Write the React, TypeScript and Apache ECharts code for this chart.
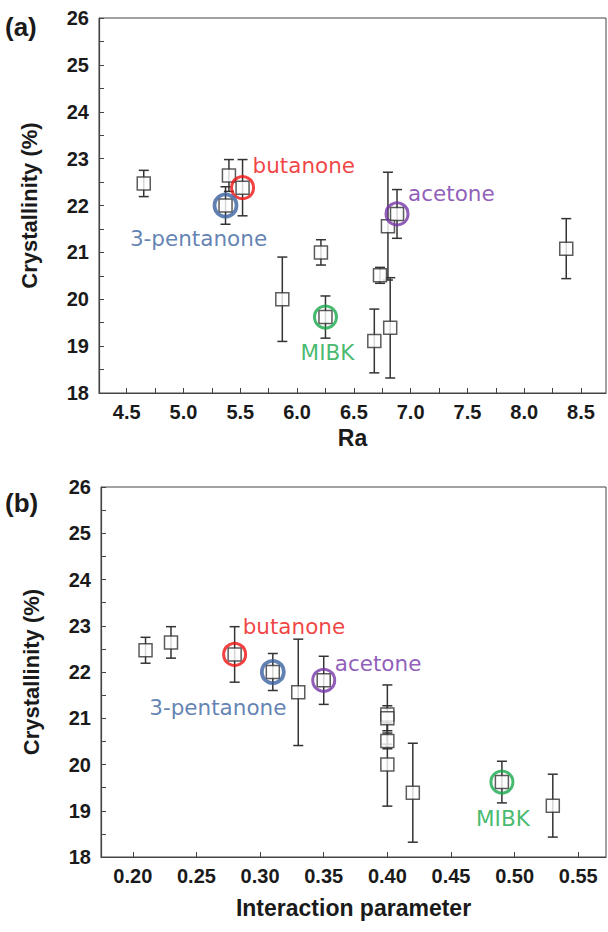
import React, { useEffect, useRef } from "react";
import * as echarts from "echarts";

// ---- data ----
const crystallinity = [22.47, 22.64, 22.38, 22.0, 21.56, 21.82, 21.08, 21.0, 20.51, 20.0, 19.39, 19.62, 19.11];
const crystErrors = [0.28, 0.34, 0.6, 0.4, 1.15, 0.52, 0.64, 0.27, 0.17, 0.9, 1.07, 0.45, 0.68];
const raValues = [4.65, 5.4, 5.52, 5.37, 6.8, 6.88, 8.37, 6.21, 6.73, 5.87, 6.82, 6.25, 6.68];
const interactionValues = [0.21, 0.23, 0.28, 0.31, 0.33, 0.35, 0.4, 0.4, 0.4, 0.4, 0.42, 0.49, 0.53];

const highlightNames = ["butanone", "3-pentanone", "acetone", "MIBK"];
const highlightIndex = [2, 3, 5, 11];
const highlightColors = ["#ee1111", "#3a62a0", "#7434a8", "#16a84a"];

const yLabels = [18, 19, 20, 21, 22, 23, 24, 25, 26];
const raLabels = [4.5, 5.0, 5.5, 6.0, 6.5, 7.0, 7.5, 8.0, 8.5];
const raTicks = [4.5, 4.75, 5.0, 5.25, 5.5, 5.75, 6.0, 6.25, 6.5, 6.75, 7.0, 7.25, 7.5, 7.75, 8.0, 8.25, 8.5];
const interactionLabels = [0.2, 0.25, 0.3, 0.35, 0.4, 0.45, 0.5, 0.55];

// ---- annotation styling (offset from the circled point, px) ----
const labelStyleA = [
  { align: "left", offset: [10, -22] },
  { align: "center", offset: [-27, 33] },
  { align: "left", offset: [11, -20] },
  { align: "center", offset: [2, 35] },
];
const labelStyleB = [
  { align: "left", offset: [8, -28] },
  { align: "center", offset: [-55, 35] },
  { align: "left", offset: [11, -17] },
  { align: "center", offset: [1, 36] },
];

const FONT = "'Liberation Sans', Arial, Helvetica, sans-serif";
const AXIS_COLOR = "#444";
const TEXT_COLOR = "#1a1a1a";

function errorBarRender(params: any, api: any) {
  const x = api.value(0);
  const y = api.value(1);
  const e = api.value(2);
  const top = api.coord([x, y + e]);
  const bot = api.coord([x, y - e]);
  const hw = 5;
  const style = { stroke: "#333", lineWidth: 1.5 };
  return {
    type: "group",
    children: [
      { type: "line", shape: { x1: top[0], y1: top[1], x2: bot[0], y2: bot[1] }, style },
      { type: "line", shape: { x1: top[0] - hw, y1: top[1], x2: top[0] + hw, y2: top[1] }, style },
      { type: "line", shape: { x1: bot[0] - hw, y1: bot[1], x2: bot[0] + hw, y2: bot[1] }, style },
    ],
  };
}

function makeSeries(xs: number[], axisIndex: number, labelStyles: any[]) {
  const errData = xs.map((x, i) => [x, crystallinity[i], crystErrors[i]]);
  const pts = xs.map((x, i) => [x, crystallinity[i]]);
  const rings = highlightIndex.map((idx, k) => ({
    name: highlightNames[k],
    value: [xs[idx], crystallinity[idx]],
    itemStyle: { borderColor: highlightColors[k], borderWidth: k === 1 ? 3.8 : 3 },
    label: {
      color: highlightColors[k],
      align: labelStyles[k].align,
      offset: labelStyles[k].offset,
    },
  }));
  return [
    {
      type: "custom",
      xAxisIndex: axisIndex,
      yAxisIndex: axisIndex,
      renderItem: errorBarRender,
      data: errData,
      encode: { x: 0, y: 1 },
      z: 1,
      silent: true,
    },
    {
      type: "scatter",
      xAxisIndex: axisIndex,
      yAxisIndex: axisIndex,
      symbol: "rect",
      symbolSize: 13,
      itemStyle: { color: "#fff", borderColor: "#333", borderWidth: 1.5 },
      data: pts,
      z: 2,
      silent: true,
    },
    {
      type: "scatter",
      xAxisIndex: axisIndex,
      yAxisIndex: axisIndex,
      symbol: "circle",
      symbolSize: 22,
      itemStyle: { color: "rgba(0,0,0,0)" },
      label: {
        show: true,
        formatter: "{b}",
        position: "inside",
        verticalAlign: "middle",
        fontFamily: "'DejaVu Sans', Verdana, sans-serif",
        fontSize: 21.5,
      },
      data: rings,
      z: 3,
      silent: true,
    },
  ];
}

function yAxisDef(gridIndex: number) {
  return {
    type: "value",
    gridIndex,
    min: 18,
    max: 26,
    interval: 0.5,
    axisLine: { show: true, lineStyle: { color: AXIS_COLOR, width: 1.2 } },
    axisTick: { show: true, inside: true, length: 5, lineStyle: { color: AXIS_COLOR, width: 1 } },
    axisLabel: {
      customValues: yLabels,
      formatter: (v: number) => String(v),
      fontSize: 20,
      fontWeight: "bold",
      fontFamily: FONT,
      color: TEXT_COLOR,
      margin: 10,
    },
    splitLine: { show: false },
    name: "Crystallinity (%)",
    nameLocation: "middle",
    nameGap: 59,
    nameTextStyle: { fontSize: 22, fontWeight: "bold", fontFamily: FONT, color: TEXT_COLOR },
  };
}

export default function App() {
  const ref = useRef<HTMLDivElement>(null);
  useEffect(() => {
    document.body.style.margin = "0";
    if (!ref.current) return;
    const chart = echarts.init(ref.current, undefined, { renderer: "svg" });
    const option: any = {
      animation: false,
      backgroundColor: "#fff",
      title: [
        {
          text: "(a)",
          left: 5,
          top: 14,
          padding: 0,
          textStyle: { fontSize: 26, fontWeight: "bold", fontFamily: FONT, color: TEXT_COLOR },
        },
        {
          text: "(b)",
          left: 5,
          top: 490,
          padding: 0,
          textStyle: { fontSize: 26, fontWeight: "bold", fontFamily: FONT, color: TEXT_COLOR },
        },
      ],
      grid: [
        { left: 99, top: 18, width: 507, height: 375, show: true, borderColor: AXIS_COLOR, borderWidth: 1, backgroundColor: "transparent" },
        { left: 101, top: 487, width: 505, height: 370, show: true, borderColor: AXIS_COLOR, borderWidth: 1, backgroundColor: "transparent" },
      ],
      xAxis: [
        {
          type: "value",
          gridIndex: 0,
          min: 4.256,
          max: 8.72,
          axisLine: { show: true, onZero: false, lineStyle: { color: AXIS_COLOR, width: 1.2 } },
          axisTick: { show: true, inside: true, length: 5, customValues: raTicks, lineStyle: { color: AXIS_COLOR, width: 1 } },
          axisLabel: {
            customValues: raLabels,
            formatter: (v: number) => v.toFixed(1),
            fontSize: 20,
            fontWeight: "bold",
            fontFamily: FONT,
            color: TEXT_COLOR,
            margin: 9,
          },
          splitLine: { show: false },
          name: "Ra",
          nameLocation: "middle",
          nameGap: 33,
          nameTextStyle: { fontSize: 23, fontWeight: "bold", fontFamily: FONT, color: TEXT_COLOR },
        },
        {
          type: "value",
          gridIndex: 1,
          min: 0.175,
          max: 0.5718,
          axisLine: { show: true, onZero: false, lineStyle: { color: AXIS_COLOR, width: 1.2 } },
          axisTick: { show: true, inside: true, length: 5, customValues: interactionLabels, lineStyle: { color: AXIS_COLOR, width: 1 } },
          axisLabel: {
            customValues: interactionLabels,
            formatter: (v: number) => v.toFixed(2),
            fontSize: 20,
            fontWeight: "bold",
            fontFamily: FONT,
            color: TEXT_COLOR,
            margin: 9,
          },
          splitLine: { show: false },
          name: "Interaction parameter",
          nameLocation: "middle",
          nameGap: 39,
          nameTextStyle: { fontSize: 23, fontWeight: "bold", fontFamily: FONT, color: TEXT_COLOR },
        },
      ],
      yAxis: [yAxisDef(0), yAxisDef(1)],
      series: [
        ...makeSeries(raValues, 0, labelStyleA),
        ...makeSeries(interactionValues, 1, labelStyleB),
      ],
    };
    chart.setOption(option);
    return () => chart.dispose();
  }, []);
  return <div ref={ref} style={{ width: 608, height: 932 }} />;
}
